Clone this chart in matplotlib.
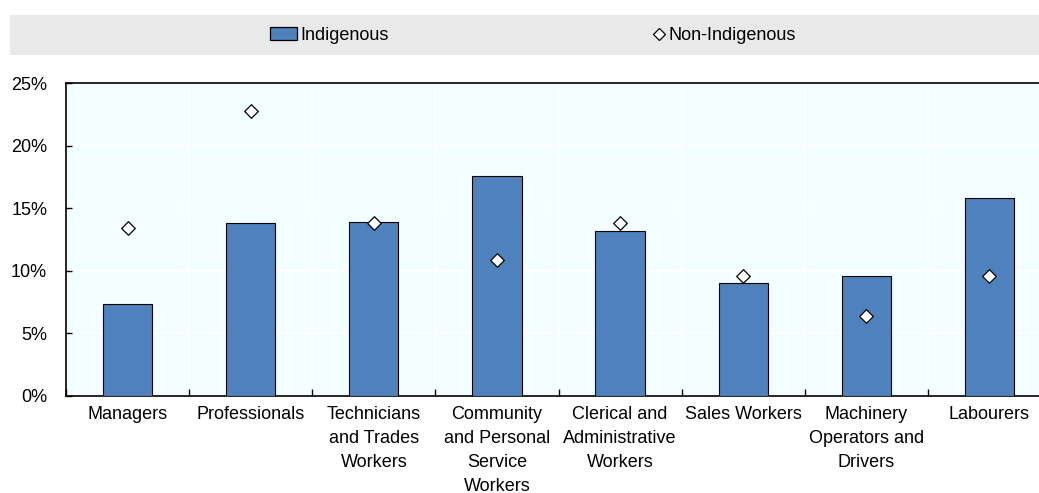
import matplotlib
matplotlib.use("Agg")
import matplotlib.pyplot as plt
from matplotlib.patches import Rectangle
from matplotlib.lines import Line2D
import numpy as np

plt.rcParams['font.family'] = ['Liberation Sans', 'DejaVu Sans']

categories = ["Managers", "Professionals", "Technicians\nand Trades\nWorkers",
              "Community\nand Personal\nService\nWorkers", "Clerical and\nAdministrative\nWorkers",
              "Sales Workers", "Machinery\nOperators and\nDrivers", "Labourers"]
indigenous = [7.35, 13.85, 13.9, 17.6, 13.2, 9.0, 9.55, 15.8]
non_indigenous = [13.4, 22.75, 13.85, 10.9, 13.85, 9.6, 6.35, 9.6]
yticks = [0, 5, 10, 15, 20, 25]
ytick_labels = ["0%", "5%", "10%", "15%", "20%", "25%"]
series_names = ["Indigenous", "Non-Indigenous"]

BAR_COLOR = "#4F81BD"
FS = 13

W, H = 1039, 493
fig = plt.figure(figsize=(W/100, H/100), dpi=100)

def fx(px):
    return px / W

def fy(py):
    return 1 - py / H

# legend band
fig.patches.append(Rectangle((fx(10), fy(55)), (W-10)/W, 40/H, transform=fig.transFigure,
                             facecolor="#E9E9E9", edgecolor="none", zorder=0))
# legend entries (manual)
fig.patches.append(Rectangle((fx(270), fy(40)), 27/W, 13/H, transform=fig.transFigure,
                             facecolor=BAR_COLOR, edgecolor="black", linewidth=0.9, zorder=2))
fig.text(fx(300), fy(34), series_names[0], fontsize=FS, va="center_baseline", ha="left")
fig.lines.append(Line2D([fx(659)], [fy(34)], transform=fig.transFigure, marker="D",
                        linestyle="none", markersize=6.5, markerfacecolor="white",
                        markeredgecolor="black", markeredgewidth=0.9))
fig.text(fx(669), fy(34), series_names[1], fontsize=FS, va="center_baseline", ha="left")

ax = fig.add_axes([fx(66), fy(396), (1051-66)/W, (396-83)/H])
ax.set_facecolor("#F2FEFF")
x = np.arange(len(categories))
ax.bar(x, indigenous, width=0.4, color=BAR_COLOR, edgecolor="black", linewidth=0.8,
       zorder=3, label=series_names[0])
ax.scatter(x, non_indigenous, marker="D", s=48, facecolor="white", edgecolor="black",
           linewidth=0.9, zorder=4, label=series_names[1])

ax.set_xlim(-0.5, len(categories)-0.5)
ax.set_ylim(0, 25)
ax.set_yticks(yticks)
ax.set_yticklabels(ytick_labels, fontsize=FS)
ax.set_xticks(x)
ax.set_xticklabels(categories, fontsize=FS, linespacing=1.52)
ax.tick_params(axis="x", length=0, pad=7.5)
ax.tick_params(axis="y", direction="in", length=4, width=1, pad=13.5)

# category separator ticks on bottom
ax.set_xticks(np.arange(len(categories)+1)-0.5, minor=True)
ax.tick_params(axis="x", which="minor", direction="in", length=5, width=1)
ax.grid(True, which="minor", axis="x", color="white", linewidth=1.2, zorder=0)
ax.grid(True, which="major", axis="y", color="white", linewidth=1.2, zorder=0)
ax.set_axisbelow(True)

for s in ["left", "bottom", "top"]:
    ax.spines[s].set_color("black")
    ax.spines[s].set_linewidth(1.2)
ax.spines["right"].set_visible(False)

fig.savefig("out.png", dpi=100)
